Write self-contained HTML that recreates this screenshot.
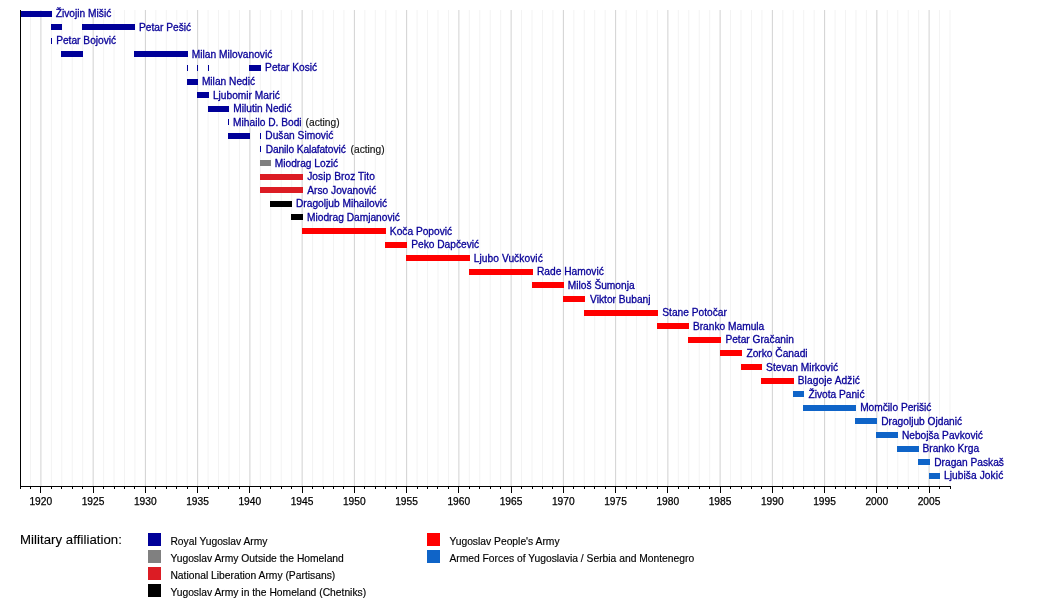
<!DOCTYPE html>
<html lang="sr-Latn">
<head>
<meta charset="utf-8">
<title>Chiefs of the General Staff timeline</title>
<style>
html,body{margin:0;padding:0;background:#fff;}
body{width:1050px;height:606px;overflow:hidden;}
svg{display:block;}
svg text{font-family:"Liberation Sans",sans-serif;}
.n{font-size:10.2px;fill:#080098;stroke:#080098;stroke-width:0.3px;}
.k{font-size:10.2px;fill:#111;stroke:#111;stroke-width:0.15px;}
.ax{font-size:10.2px;fill:#000;stroke:#000;stroke-width:0.25px;text-anchor:middle;}
.lg{font-size:10.3px;fill:#000;stroke:#000;stroke-width:0.15px;}
.lt{font-size:13.2px;fill:#000;stroke:#000;stroke-width:0.12px;letter-spacing:0.05px;}
</style>
</head>
<body>
<svg width="1050" height="606" viewBox="0 0 1050 606">
<rect x="0" y="0" width="1050" height="606" fill="#ffffff"/>
<g>
<rect x="29.95" y="10" width="1" height="476" fill="#f3f3f3"/>
<rect x="40.40" y="10" width="1" height="476" fill="#d2d2d2"/>
<rect x="50.85" y="10" width="1" height="476" fill="#f3f3f3"/>
<rect x="61.30" y="10" width="1" height="476" fill="#f3f3f3"/>
<rect x="71.75" y="10" width="1" height="476" fill="#f3f3f3"/>
<rect x="82.20" y="10" width="1" height="476" fill="#f3f3f3"/>
<rect x="92.65" y="10" width="1" height="476" fill="#d2d2d2"/>
<rect x="103.10" y="10" width="1" height="476" fill="#f3f3f3"/>
<rect x="113.54" y="10" width="1" height="476" fill="#f3f3f3"/>
<rect x="123.99" y="10" width="1" height="476" fill="#f3f3f3"/>
<rect x="134.44" y="10" width="1" height="476" fill="#f3f3f3"/>
<rect x="144.89" y="10" width="1" height="476" fill="#d2d2d2"/>
<rect x="155.34" y="10" width="1" height="476" fill="#f3f3f3"/>
<rect x="165.79" y="10" width="1" height="476" fill="#f3f3f3"/>
<rect x="176.24" y="10" width="1" height="476" fill="#f3f3f3"/>
<rect x="186.69" y="10" width="1" height="476" fill="#f3f3f3"/>
<rect x="197.14" y="10" width="1" height="476" fill="#d2d2d2"/>
<rect x="207.59" y="10" width="1" height="476" fill="#f3f3f3"/>
<rect x="218.04" y="10" width="1" height="476" fill="#f3f3f3"/>
<rect x="228.49" y="10" width="1" height="476" fill="#f3f3f3"/>
<rect x="238.94" y="10" width="1" height="476" fill="#f3f3f3"/>
<rect x="249.39" y="10" width="1" height="476" fill="#d2d2d2"/>
<rect x="259.84" y="10" width="1" height="476" fill="#f3f3f3"/>
<rect x="270.29" y="10" width="1" height="476" fill="#f3f3f3"/>
<rect x="280.74" y="10" width="1" height="476" fill="#f3f3f3"/>
<rect x="291.19" y="10" width="1" height="476" fill="#f3f3f3"/>
<rect x="301.63" y="10" width="1" height="476" fill="#d2d2d2"/>
<rect x="312.08" y="10" width="1" height="476" fill="#f3f3f3"/>
<rect x="322.53" y="10" width="1" height="476" fill="#f3f3f3"/>
<rect x="332.98" y="10" width="1" height="476" fill="#f3f3f3"/>
<rect x="343.43" y="10" width="1" height="476" fill="#f3f3f3"/>
<rect x="353.88" y="10" width="1" height="476" fill="#d2d2d2"/>
<rect x="364.33" y="10" width="1" height="476" fill="#f3f3f3"/>
<rect x="374.78" y="10" width="1" height="476" fill="#f3f3f3"/>
<rect x="385.23" y="10" width="1" height="476" fill="#f3f3f3"/>
<rect x="395.68" y="10" width="1" height="476" fill="#f3f3f3"/>
<rect x="406.13" y="10" width="1" height="476" fill="#d2d2d2"/>
<rect x="416.58" y="10" width="1" height="476" fill="#f3f3f3"/>
<rect x="427.03" y="10" width="1" height="476" fill="#f3f3f3"/>
<rect x="437.48" y="10" width="1" height="476" fill="#f3f3f3"/>
<rect x="447.93" y="10" width="1" height="476" fill="#f3f3f3"/>
<rect x="458.38" y="10" width="1" height="476" fill="#d2d2d2"/>
<rect x="468.83" y="10" width="1" height="476" fill="#f3f3f3"/>
<rect x="479.28" y="10" width="1" height="476" fill="#f3f3f3"/>
<rect x="489.72" y="10" width="1" height="476" fill="#f3f3f3"/>
<rect x="500.17" y="10" width="1" height="476" fill="#f3f3f3"/>
<rect x="510.62" y="10" width="1" height="476" fill="#d2d2d2"/>
<rect x="521.07" y="10" width="1" height="476" fill="#f3f3f3"/>
<rect x="531.52" y="10" width="1" height="476" fill="#f3f3f3"/>
<rect x="541.97" y="10" width="1" height="476" fill="#f3f3f3"/>
<rect x="552.42" y="10" width="1" height="476" fill="#f3f3f3"/>
<rect x="562.87" y="10" width="1" height="476" fill="#d2d2d2"/>
<rect x="573.32" y="10" width="1" height="476" fill="#f3f3f3"/>
<rect x="583.77" y="10" width="1" height="476" fill="#f3f3f3"/>
<rect x="594.22" y="10" width="1" height="476" fill="#f3f3f3"/>
<rect x="604.67" y="10" width="1" height="476" fill="#f3f3f3"/>
<rect x="615.12" y="10" width="1" height="476" fill="#d2d2d2"/>
<rect x="625.57" y="10" width="1" height="476" fill="#f3f3f3"/>
<rect x="636.02" y="10" width="1" height="476" fill="#f3f3f3"/>
<rect x="646.47" y="10" width="1" height="476" fill="#f3f3f3"/>
<rect x="656.92" y="10" width="1" height="476" fill="#f3f3f3"/>
<rect x="667.37" y="10" width="1" height="476" fill="#d2d2d2"/>
<rect x="677.81" y="10" width="1" height="476" fill="#f3f3f3"/>
<rect x="688.26" y="10" width="1" height="476" fill="#f3f3f3"/>
<rect x="698.71" y="10" width="1" height="476" fill="#f3f3f3"/>
<rect x="709.16" y="10" width="1" height="476" fill="#f3f3f3"/>
<rect x="719.61" y="10" width="1" height="476" fill="#d2d2d2"/>
<rect x="730.06" y="10" width="1" height="476" fill="#f3f3f3"/>
<rect x="740.51" y="10" width="1" height="476" fill="#f3f3f3"/>
<rect x="750.96" y="10" width="1" height="476" fill="#f3f3f3"/>
<rect x="761.41" y="10" width="1" height="476" fill="#f3f3f3"/>
<rect x="771.86" y="10" width="1" height="476" fill="#d2d2d2"/>
<rect x="782.31" y="10" width="1" height="476" fill="#f3f3f3"/>
<rect x="792.76" y="10" width="1" height="476" fill="#f3f3f3"/>
<rect x="803.21" y="10" width="1" height="476" fill="#f3f3f3"/>
<rect x="813.66" y="10" width="1" height="476" fill="#f3f3f3"/>
<rect x="824.11" y="10" width="1" height="476" fill="#d2d2d2"/>
<rect x="834.56" y="10" width="1" height="476" fill="#f3f3f3"/>
<rect x="845.01" y="10" width="1" height="476" fill="#f3f3f3"/>
<rect x="855.46" y="10" width="1" height="476" fill="#f3f3f3"/>
<rect x="865.90" y="10" width="1" height="476" fill="#f3f3f3"/>
<rect x="876.35" y="10" width="1" height="476" fill="#d2d2d2"/>
<rect x="886.80" y="10" width="1" height="476" fill="#f3f3f3"/>
<rect x="897.25" y="10" width="1" height="476" fill="#f3f3f3"/>
<rect x="907.70" y="10" width="1" height="476" fill="#f3f3f3"/>
<rect x="918.15" y="10" width="1" height="476" fill="#f3f3f3"/>
<rect x="928.60" y="10" width="1" height="476" fill="#d2d2d2"/>
<rect x="939.05" y="10" width="1" height="476" fill="#f3f3f3"/>
<rect x="949.50" y="10" width="1" height="476" fill="#f3f3f3"/>
</g>
<g>
<rect x="21" y="11" width="31" height="6" fill="#000099"/>
<rect x="51" y="24" width="11" height="6" fill="#000099"/>
<rect x="82" y="24" width="53" height="6" fill="#000099"/>
<rect x="51" y="38" width="1" height="6" fill="#000099"/>
<rect x="61" y="51" width="22" height="6" fill="#000099"/>
<rect x="134" y="51" width="54" height="6" fill="#000099"/>
<rect x="249" y="65" width="12" height="6" fill="#000099"/>
<rect x="187" y="65" width="1" height="6" fill="#000099"/>
<rect x="197" y="65" width="1" height="6" fill="#000099"/>
<rect x="208" y="65" width="1" height="6" fill="#000099"/>
<rect x="187" y="79" width="11" height="6" fill="#000099"/>
<rect x="197" y="92" width="12" height="6" fill="#000099"/>
<rect x="208" y="106" width="21" height="6" fill="#000099"/>
<rect x="228" y="119" width="1" height="6" fill="#000099"/>
<rect x="228" y="133" width="22" height="6" fill="#000099"/>
<rect x="260" y="133" width="1" height="6" fill="#000099"/>
<rect x="260" y="146" width="1" height="6" fill="#000099"/>
<rect x="260" y="160" width="11" height="6" fill="#808080"/>
<rect x="260" y="174" width="43" height="6" fill="#dc1c24"/>
<rect x="260" y="187" width="43" height="6" fill="#dc1c24"/>
<rect x="270" y="201" width="22" height="6" fill="#000000"/>
<rect x="291" y="214" width="12" height="6" fill="#000000"/>
<rect x="302" y="228" width="84" height="6" fill="#ff0000"/>
<rect x="385" y="242" width="22" height="6" fill="#ff0000"/>
<rect x="406" y="255" width="64" height="6" fill="#ff0000"/>
<rect x="469" y="269" width="64" height="6" fill="#ff0000"/>
<rect x="532" y="282" width="32" height="6" fill="#ff0000"/>
<rect x="563" y="296" width="22" height="6" fill="#ff0000"/>
<rect x="584" y="310" width="74" height="6" fill="#ff0000"/>
<rect x="657" y="323" width="32" height="6" fill="#ff0000"/>
<rect x="688" y="337" width="33" height="6" fill="#ff0000"/>
<rect x="720" y="350" width="22" height="6" fill="#ff0000"/>
<rect x="741" y="364" width="21" height="6" fill="#ff0000"/>
<rect x="761" y="378" width="33" height="6" fill="#ff0000"/>
<rect x="793" y="391" width="11" height="6" fill="#0f64c8"/>
<rect x="803" y="405" width="53" height="6" fill="#0f64c8"/>
<rect x="855" y="418" width="22" height="6" fill="#0f64c8"/>
<rect x="876" y="432" width="22" height="6" fill="#0f64c8"/>
<rect x="897" y="446" width="22" height="6" fill="#0f64c8"/>
<rect x="918" y="459" width="12" height="6" fill="#0f64c8"/>
<rect x="929" y="473" width="11" height="6" fill="#0f64c8"/>
</g>
<g>
<text class="n" x="55.77" y="16.9">Živojin Mišić</text>
<text class="n" x="139.02" y="30.5">Petar Pešić</text>
<text class="n" x="56.17" y="44.1">Petar Bojović</text>
<text class="n" x="191.87" y="57.7">Milan Milovanović</text>
<text class="n" x="265.11" y="71.3">Petar Kosić</text>
<text class="n" x="201.89" y="84.9">Milan Nedić</text>
<text class="n" x="212.94" y="98.5">Ljubomir Marić</text>
<text class="n" x="233.34" y="112.1">Milutin Nedić</text>
<text class="n" x="233.09" y="125.7">Mihailo D. Bodi</text>
<text class="k" x="305.60" y="125.7">(acting)</text>
<text class="n" x="265.34" y="139.3">Dušan Simović</text>
<text class="n" x="265.64" y="152.9" letter-spacing="-0.085">Danilo Kalafatović</text>
<text class="k" x="350.60" y="152.9">(acting)</text>
<text class="n" x="274.74" y="166.5">Miodrag Lozić</text>
<text class="n" x="307.13" y="180.1" letter-spacing="0.07">Josip Broz Tito</text>
<text class="n" x="307.30" y="193.7">Arso Jovanović</text>
<text class="n" x="295.99" y="207.3">Dragoljub Mihailović</text>
<text class="n" x="307.03" y="220.9">Miodrag Damjanović</text>
<text class="n" x="389.86" y="234.5">Koča Popović</text>
<text class="n" x="411.21" y="248.1">Peko Dapčević</text>
<text class="n" x="473.73" y="261.7" letter-spacing="0.07">Ljubo Vučković</text>
<text class="n" x="536.97" y="275.3">Rade Hamović</text>
<text class="n" x="567.79" y="288.9">Miloš Šumonja</text>
<text class="n" x="590.09" y="302.5">Viktor Bubanj</text>
<text class="n" x="662.27" y="316.1">Stane Potočar</text>
<text class="n" x="692.91" y="329.7">Branko Mamula</text>
<text class="n" x="725.38" y="343.3">Petar Gračanin</text>
<text class="n" x="746.41" y="356.9">Zorko Čanadi</text>
<text class="n" x="766.11" y="370.5">Stevan Mirković</text>
<text class="n" x="797.76" y="384.1" letter-spacing="0.08">Blagoje Adžić</text>
<text class="n" x="808.43" y="397.7">Života Panić</text>
<text class="n" x="860.14" y="411.3">Momčilo Perišić</text>
<text class="n" x="881.17" y="424.9">Dragoljub Ojdanić</text>
<text class="n" x="901.90" y="438.5">Nebojša Pavković</text>
<text class="n" x="922.47" y="452.1">Branko Krga</text>
<text class="n" x="934.27" y="465.7">Dragan Paskaš</text>
<text class="n" x="943.95" y="479.3" letter-spacing="0.08">Ljubiša Jokić</text>
</g>
<g shape-rendering="crispEdges" fill="#000">
<rect x="20" y="10" width="1" height="477"/>
<rect x="20" y="486" width="931" height="1"/>
<rect x="19.50" y="486" width="1" height="3"/>
<rect x="29.95" y="486" width="1" height="3"/>
<rect x="40.40" y="486" width="1" height="7"/>
<rect x="50.85" y="486" width="1" height="3"/>
<rect x="61.30" y="486" width="1" height="3"/>
<rect x="71.75" y="486" width="1" height="3"/>
<rect x="82.20" y="486" width="1" height="3"/>
<rect x="92.65" y="486" width="1" height="7"/>
<rect x="103.10" y="486" width="1" height="3"/>
<rect x="113.54" y="486" width="1" height="3"/>
<rect x="123.99" y="486" width="1" height="3"/>
<rect x="134.44" y="486" width="1" height="3"/>
<rect x="144.89" y="486" width="1" height="7"/>
<rect x="155.34" y="486" width="1" height="3"/>
<rect x="165.79" y="486" width="1" height="3"/>
<rect x="176.24" y="486" width="1" height="3"/>
<rect x="186.69" y="486" width="1" height="3"/>
<rect x="197.14" y="486" width="1" height="7"/>
<rect x="207.59" y="486" width="1" height="3"/>
<rect x="218.04" y="486" width="1" height="3"/>
<rect x="228.49" y="486" width="1" height="3"/>
<rect x="238.94" y="486" width="1" height="3"/>
<rect x="249.39" y="486" width="1" height="7"/>
<rect x="259.84" y="486" width="1" height="3"/>
<rect x="270.29" y="486" width="1" height="3"/>
<rect x="280.74" y="486" width="1" height="3"/>
<rect x="291.19" y="486" width="1" height="3"/>
<rect x="301.63" y="486" width="1" height="7"/>
<rect x="312.08" y="486" width="1" height="3"/>
<rect x="322.53" y="486" width="1" height="3"/>
<rect x="332.98" y="486" width="1" height="3"/>
<rect x="343.43" y="486" width="1" height="3"/>
<rect x="353.88" y="486" width="1" height="7"/>
<rect x="364.33" y="486" width="1" height="3"/>
<rect x="374.78" y="486" width="1" height="3"/>
<rect x="385.23" y="486" width="1" height="3"/>
<rect x="395.68" y="486" width="1" height="3"/>
<rect x="406.13" y="486" width="1" height="7"/>
<rect x="416.58" y="486" width="1" height="3"/>
<rect x="427.03" y="486" width="1" height="3"/>
<rect x="437.48" y="486" width="1" height="3"/>
<rect x="447.93" y="486" width="1" height="3"/>
<rect x="458.38" y="486" width="1" height="7"/>
<rect x="468.83" y="486" width="1" height="3"/>
<rect x="479.28" y="486" width="1" height="3"/>
<rect x="489.72" y="486" width="1" height="3"/>
<rect x="500.17" y="486" width="1" height="3"/>
<rect x="510.62" y="486" width="1" height="7"/>
<rect x="521.07" y="486" width="1" height="3"/>
<rect x="531.52" y="486" width="1" height="3"/>
<rect x="541.97" y="486" width="1" height="3"/>
<rect x="552.42" y="486" width="1" height="3"/>
<rect x="562.87" y="486" width="1" height="7"/>
<rect x="573.32" y="486" width="1" height="3"/>
<rect x="583.77" y="486" width="1" height="3"/>
<rect x="594.22" y="486" width="1" height="3"/>
<rect x="604.67" y="486" width="1" height="3"/>
<rect x="615.12" y="486" width="1" height="7"/>
<rect x="625.57" y="486" width="1" height="3"/>
<rect x="636.02" y="486" width="1" height="3"/>
<rect x="646.47" y="486" width="1" height="3"/>
<rect x="656.92" y="486" width="1" height="3"/>
<rect x="667.37" y="486" width="1" height="7"/>
<rect x="677.81" y="486" width="1" height="3"/>
<rect x="688.26" y="486" width="1" height="3"/>
<rect x="698.71" y="486" width="1" height="3"/>
<rect x="709.16" y="486" width="1" height="3"/>
<rect x="719.61" y="486" width="1" height="7"/>
<rect x="730.06" y="486" width="1" height="3"/>
<rect x="740.51" y="486" width="1" height="3"/>
<rect x="750.96" y="486" width="1" height="3"/>
<rect x="761.41" y="486" width="1" height="3"/>
<rect x="771.86" y="486" width="1" height="7"/>
<rect x="782.31" y="486" width="1" height="3"/>
<rect x="792.76" y="486" width="1" height="3"/>
<rect x="803.21" y="486" width="1" height="3"/>
<rect x="813.66" y="486" width="1" height="3"/>
<rect x="824.11" y="486" width="1" height="7"/>
<rect x="834.56" y="486" width="1" height="3"/>
<rect x="845.01" y="486" width="1" height="3"/>
<rect x="855.46" y="486" width="1" height="3"/>
<rect x="865.90" y="486" width="1" height="3"/>
<rect x="876.35" y="486" width="1" height="7"/>
<rect x="886.80" y="486" width="1" height="3"/>
<rect x="897.25" y="486" width="1" height="3"/>
<rect x="907.70" y="486" width="1" height="3"/>
<rect x="918.15" y="486" width="1" height="3"/>
<rect x="928.60" y="486" width="1" height="7"/>
<rect x="939.05" y="486" width="1" height="3"/>
<rect x="949.50" y="486" width="1" height="3"/>
</g>
<g>
<text class="ax" x="40.80" y="504.7">1920</text>
<text class="ax" x="93.05" y="504.7">1925</text>
<text class="ax" x="145.29" y="504.7">1930</text>
<text class="ax" x="197.54" y="504.7">1935</text>
<text class="ax" x="249.79" y="504.7">1940</text>
<text class="ax" x="302.03" y="504.7">1945</text>
<text class="ax" x="354.28" y="504.7">1950</text>
<text class="ax" x="406.53" y="504.7">1955</text>
<text class="ax" x="458.78" y="504.7">1960</text>
<text class="ax" x="511.02" y="504.7">1965</text>
<text class="ax" x="563.27" y="504.7">1970</text>
<text class="ax" x="615.52" y="504.7">1975</text>
<text class="ax" x="667.77" y="504.7">1980</text>
<text class="ax" x="720.01" y="504.7">1985</text>
<text class="ax" x="772.26" y="504.7">1990</text>
<text class="ax" x="824.51" y="504.7">1995</text>
<text class="ax" x="876.75" y="504.7">2000</text>
<text class="ax" x="929.00" y="504.7">2005</text>
</g>
<text class="lt" x="20" y="544.2">Military affiliation:</text>
<rect x="148" y="533" width="13" height="13" fill="#000099"/>
<text class="lg" x="170.4" y="545.0">Royal Yugoslav Army</text>
<rect x="148" y="550" width="13" height="13" fill="#808080"/>
<text class="lg" x="170.4" y="562.0">Yugoslav Army Outside the Homeland</text>
<rect x="148" y="567" width="13" height="13" fill="#dc1c24"/>
<text class="lg" x="170.4" y="579.0">National Liberation Army (Partisans)</text>
<rect x="148" y="584" width="13" height="13" fill="#000000"/>
<text class="lg" x="170.4" y="596.0">Yugoslav Army in the Homeland (Chetniks)</text>
<rect x="427" y="533" width="13" height="13" fill="#ff0000"/>
<text class="lg" x="449.4" y="545.0">Yugoslav People's Army</text>
<rect x="427" y="550" width="13" height="13" fill="#0f64c8"/>
<text class="lg" x="449.4" y="562.0">Armed Forces of Yugoslavia / Serbia and Montenegro</text>
</svg>
</body>
</html>
